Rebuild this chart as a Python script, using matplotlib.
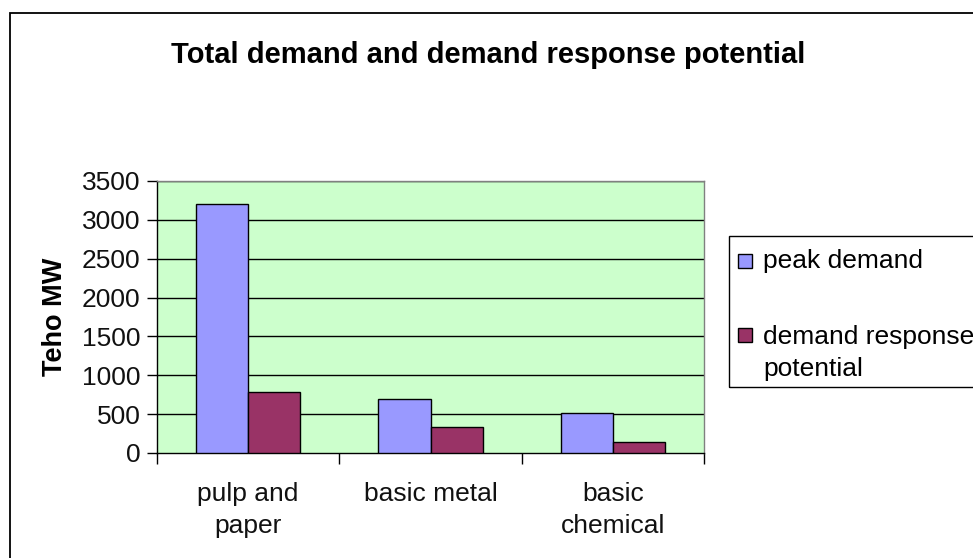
import matplotlib
matplotlib.use("Agg")
import matplotlib.pyplot as plt
from matplotlib.patches import Rectangle
import numpy as np

categories = ["pulp and\npaper", "basic metal", "basic\nchemical"]
series_names = ["peak demand", "demand response\npotential"]
peak_demand = [3200, 690, 510]
dr_potential = [780, 340, 140]
yticks = [0, 500, 1000, 1500, 2000, 2500, 3000, 3500]
colors = ["#9999FF", "#993366"]

plt.rcParams['font.family'] = ['Liberation Sans', 'DejaVu Sans']

W, H = 973, 558
fig = plt.figure(figsize=(W / 100, H / 100), dpi=100)

def fx(px):
    return px / W

def fy(py):
    return 1 - py / H

FS = 19

# outer chart border
fig.patches.append(Rectangle((fx(10), fy(700)), fx(1100) - fx(10), fy(13) - fy(700),
                             transform=fig.transFigure, fill=False, edgecolor="black",
                             linewidth=1.3))

ax = fig.add_axes([fx(157), fy(453), fx(704) - fx(157), fy(181) - fy(453)])
ax.set_facecolor("#CCFFCC")

x = np.arange(len(categories))
bw = 0.2857
ax.bar(x - bw / 2, peak_demand, width=bw, color=colors[0], edgecolor="black", linewidth=1.0, zorder=3)
ax.bar(x + bw / 2, dr_potential, width=bw, color=colors[1], edgecolor="black", linewidth=1.0, zorder=3)

ax.set_xlim(-0.5, len(categories) - 0.5)
ax.set_ylim(0, 3500)
ax.set_yticks(yticks)
ax.set_yticklabels([str(v) for v in yticks], fontsize=FS, color="#111111")
for v in yticks[1:]:
    ax.axhline(v, color="black", linewidth=1.0, zorder=1)

ax.set_xticks(x)
ax.set_xticklabels(categories, fontsize=FS, color="#111111", linespacing=1.42)
ax.tick_params(axis="x", which="major", length=0, pad=21)
ax.set_xticks(np.arange(-0.5, len(categories), 1.0), minor=True)
ax.tick_params(axis="x", which="minor", length=8, width=1.0, direction="out")
ax.tick_params(axis="y", length=7, width=1.0, direction="out", pad=5)

for s in ["top", "right"]:
    ax.spines[s].set_color("#808080")
    ax.spines[s].set_linewidth(1.0)
for s in ["left", "bottom"]:
    ax.spines[s].set_color("black")
    ax.spines[s].set_linewidth(1.0)

ax.set_ylabel("Teho MW", fontsize=19.5, fontweight="bold", labelpad=10)

fig.text(fx(488), fy(55), "Total demand and demand response potential",
         ha="center", va="center", fontsize=21, fontweight="bold")

# legend
fig.patches.append(Rectangle((fx(729), fy(387)), fx(1100) - fx(729), fy(236) - fy(387),
                             transform=fig.transFigure, fill=False, edgecolor="black",
                             linewidth=1.0))
leg_y = [261, 335]
for name, c, yy in zip(series_names, colors, leg_y):
    fig.patches.append(Rectangle((fx(738), fy(yy + 7)), fx(752) - fx(738), fy(yy - 7) - fy(yy + 7),
                                 transform=fig.transFigure, facecolor=c, edgecolor="black",
                                 linewidth=1.0))
    if "\n" in name:
        fig.text(fx(763), fy(yy - 10), name, ha="left", va="top", fontsize=FS, linespacing=1.42)
    else:
        fig.text(fx(763), fy(yy), name, ha="left", va="center", fontsize=FS)

fig.savefig("out.png", dpi=100)
